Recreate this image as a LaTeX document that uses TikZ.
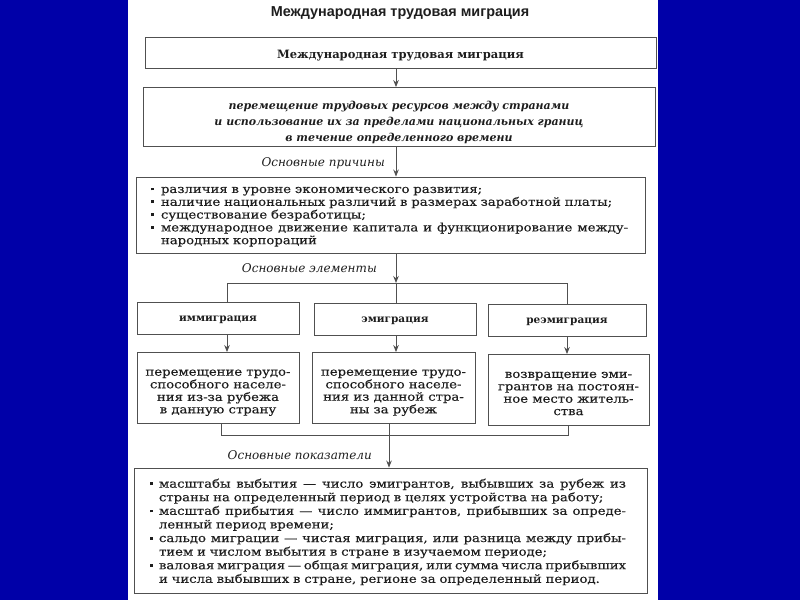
\documentclass[tikz,border=0pt]{standalone}
\usepackage{fontspec}
\setmainfont{DejaVu Serif}
\newfontfamily\widefont[FakeStretch=1.15, FakeBold=0.3]{DejaVu Serif}
\newfontfamily\titlefont{Liberation Sans}
\usetikzlibrary{positioning,calc,arrows.meta}
\definecolor{slideblue}{RGB}{0,0,168}
\definecolor{scanline}{RGB}{80,80,80}
\definecolor{scantext}{RGB}{30,30,30}
\newcommand{\sqbullet}{\rule[0.22em]{2.8pt}{2.8pt}}
% lower the text inside a box without moving the box
\newcommand{\lowered}[2]{\raisebox{-#1}[\dimexpr\height+#1\relax][\dimexpr\depth+#1\relax]{#2}}
\newcommand{\stacked}[2]{\lowered{#1}{\begin{tabular}{@{}c@{}}#2\end{tabular}}}
% justified full line of a list item
\newcommand{\jl}[1]{{\spaceskip=0.3333em plus 1em minus 0.12em\makebox[467pt][s]{#1}}}

\begin{document}
\begin{tikzpicture}[
    x=1pt, y=-1pt,
    box/.style={draw=scanline, line width=0.9pt, fill=white, inner sep=0pt, align=center, text=scantext},
    headbox/.style={box, minimum height=32pt, font=\fontsize{10.5}{12}\selectfont\bfseries},
    descbox/.style={box, minimum height=71pt, font=\widefont\fontsize{11.5}{12.4}\selectfont},
    listbox/.style={box, align=left},
    tag/.style={anchor=east, inner sep=0pt, text=scantext, font=\fontsize{12}{14}\selectfont\itshape},
    link/.style={draw=scanline, line width=0.9pt},
    arr/.style={link, -{Stealth[length=7pt, width=5.5pt]}},
]
% slide background and scanned page
\fill[slideblue] (0,0) rectangle (800,600);
\fill[white] (128,0) rectangle (658,600);

\node[text=scantext, font=\titlefont\fontsize{14.4}{16}\selectfont\bfseries] (title) at (400,13) {Международная трудовая миграция};

\node[box, minimum width=511pt, minimum height=31pt, font=\fontsize{11.5}{13}\selectfont\bfseries] (main) at (400.5,52.5)
  {\lowered{3pt}{Международная трудовая миграция}};
\node[box, minimum width=512pt, minimum height=56pt, font=\fontsize{11}{16}\selectfont\bfseries\itshape] (defn) at (399,117)
  {\stacked{5.5pt}{перемещение трудовых ресурсов между странами\\и использование их за пределами национальных границ\\в течение определенного времени}};

\node[listbox, inner xsep=15pt, text width=479pt, minimum height=76pt, font=\widefont\fontsize{11.5}{12.8}\selectfont] (causes) at (390.5,215) {\lowered{1pt}{%
\begin{tabular}{@{}p{10pt}@{}l@{}}
\sqbullet & различия в уровне экономического развития;\\
\sqbullet & наличие национальных различий в размерах заработной платы;\\
\sqbullet & существование безработицы;\\
\sqbullet & \jl{международное движение капитала и функционирование между-}\\
          & народных корпораций
\end{tabular}}};

% three kinds of migration
\node[headbox, minimum width=162pt] (imm) at (218,318) {\lowered{2pt}{иммиграция}};
\node[headbox, minimum width=162pt] (emi) at (395,319) {\lowered{2pt}{эмиграция}};
\node[headbox, minimum width=158pt] (reemi) at (567,320) {\lowered{2pt}{реэмиграция}};

\node[descbox, minimum width=162pt] (immdesc) at (218,388) {\stacked{4pt}{перемещение трудо-\\способного населе-\\ния из-за рубежа\\в данную страну}};
\node[descbox, minimum width=163pt] (emidesc) at (393.5,388) {\stacked{4pt}{перемещение трудо-\\способного населе-\\ния из данной стра-\\ны за рубеж}};
\node[descbox, minimum width=161pt] (reemidesc) at (568.5,390) {\stacked{4pt}{возвращение эми-\\грантов на постоян-\\ное место житель-\\ства}};

\node[listbox, inner xsep=16pt, text width=481pt, minimum height=125pt, font=\widefont\fontsize{11.5}{13.6}\selectfont] (indic) at (390.5,530.5) {\lowered{2pt}{%
\begin{tabular}{@{}p{9pt}@{}l@{}}
\sqbullet & \jl{масштабы выбытия — число эмигрантов, выбывших за рубеж из}\\
          & страны на определенный период в целях устройства на работу;\\
\sqbullet & \jl{масштаб прибытия — число иммигрантов, прибывших за опреде-}\\
          & ленный период времени;\\
\sqbullet & \jl{сальдо миграции — чистая миграция, или разница между прибы-}\\
          & тием и числом выбытия в стране в изучаемом периоде;\\
\sqbullet & \jl{валовая миграция — общая миграция, или сумма числа прибывших}\\
          & и числа выбывших в стране, регионе за определенный период.
\end{tabular}}};

\node[tag] (causelbl) at (385,163) {Основные причины};
\node[tag] (elemlbl) at (377,268) {Основные элементы};
\node[tag] (indlbl) at (372,455) {Основные показатели};

% connectors
\coordinate (spine) at (396,0);
\coordinate (lowspine) at (389,0);
\coordinate (barL) at (227,283);
\coordinate (barR) at (567,283);
\coordinate (lowbarL) at (221,435);
\coordinate (lowbarR) at (568,435);

\draw[arr] (main.south -| spine) -- (defn.north -| spine);
\draw[arr] (defn.south -| spine) -- (causes.north -| spine);
\draw[arr] (causes.south -| spine) -- (spine |- barL);
\draw[link] (imm.north -| barL) -- (barL) -- (barR) -- (reemi.north -| barR);
\draw[link] (spine |- barL) -- (emi.north -| spine);
\draw[arr] (imm.south -| barL) -- (immdesc.north -| barL);
\draw[arr] (emi.south -| spine) -- (emidesc.north -| spine);
\draw[arr] (reemi.south -| barR) -- (reemidesc.north -| barR);
\draw[link] (immdesc.south -| lowbarL) -- (lowbarL) -- (lowbarR) -- (reemidesc.south -| lowbarR);
\draw[arr] (emidesc.south -| lowspine) -- (indic.north -| lowspine);
\end{tikzpicture}
\end{document}
